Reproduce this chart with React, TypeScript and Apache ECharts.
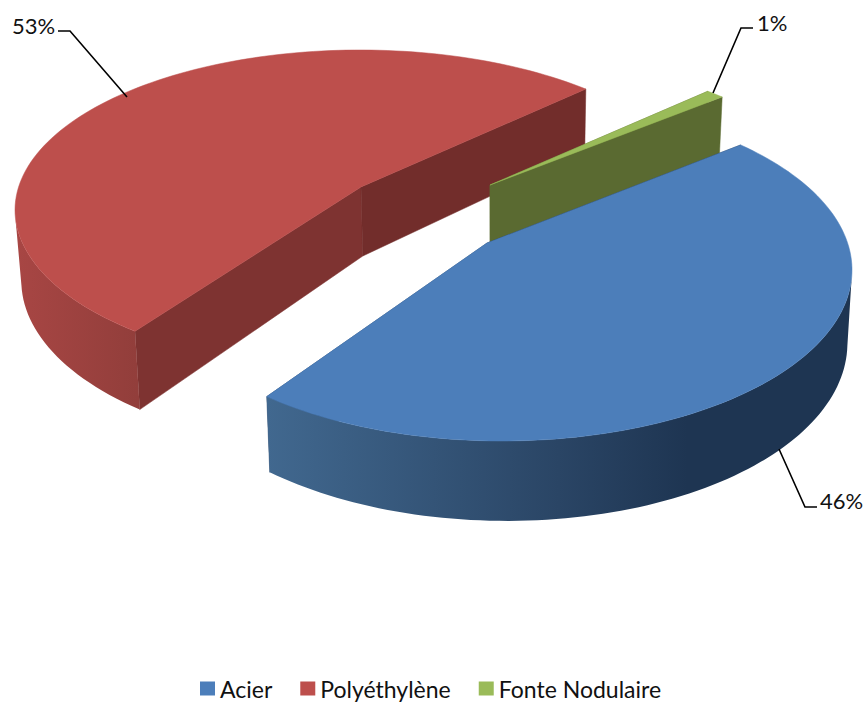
import React, { useEffect, useRef } from "react";
import * as echarts from "echarts";

const categories = ["Acier", "Polyéthylène", "Fonte Nodulaire"];
const values = [46, 53, 1];
const firstSliceAngle = 39.9;

const FONT = "Lato, Carlito, sans-serif";
const VANISH_X = 500;
const VANISH_K = 0.013;

type Slice = {
  apex: [number, number];
  center: [number, number];
  a: number;
  b: number;
  persp: number;
  depth: number;
  top: string;
  startFace: string;
  endFace: string;
  wall: any;
  z: number;
  label: { x: number; y: number; align: string; line: number[][] };
};

const slices: Slice[] = [
  {
    apex: [487, 243],
    center: [502, 270],
    a: 350,
    b: 171,
    persp: 0.14,
    depth: 69,
    top: "#4C7EBA",
    startFace: "#1E3552",
    endFace: "#2A4A70",
    wall: {
      type: "linear", x: 267, y: 0, x2: 851, y2: 0, global: true,
      colorStops: [
        { offset: 0, color: "#41688F" },
        { offset: 0.5, color: "#2A4565" },
        { offset: 0.72, color: "#1E3552" },
        { offset: 1, color: "#1E3552" },
      ],
    },
    z: 3,
    label: { x: 820, y: 500, align: "left", line: [[779, 449], [805, 507], [817, 507]] },
  },
  {
    apex: [361, 187],
    center: [360, 210],
    a: 345,
    b: 160,
    persp: 0.144,
    depth: 69,
    top: "#BD4F4C",
    startFace: "#7E3331",
    endFace: "#722D2B",
    wall: {
      type: "linear", x: 15, y: 0, x2: 137, y2: 0, global: true,
      colorStops: [
        { offset: 0, color: "#A84644" },
        { offset: 1, color: "#923E3B" },
      ],
    },
    z: 1,
    label: { x: 12, y: 25, align: "left", line: [[58, 31], [70, 31], [127, 97]] },
  },
  {
    apex: [490, 185],
    center: [500, 207],
    a: 327,
    b: 150,
    persp: 0.149,
    depth: 66,
    top: "#9ABB59",
    startFace: "#5A6A31",
    endFace: "#5A6A31",
    wall: "#5A6A31",
    z: 2,
    label: { x: 757, y: 22, align: "left", line: [[713, 93], [741, 28], [753, 28]] },
  },
];

const total = values.reduce((a, b) => a + b, 0);
const STEPS = 120;

// Perspective view of the pie's circle: it lands on the slice's ellipse, leaning
// towards the apex by the slice's perspective strength. Returns the screen point
// and the perspective divisor at that point.
function project(s: Slice, mathDeg: number): { x: number; y: number; w: number } {
  const t = (mathDeg * Math.PI) / 180;
  const u0 = Math.cos(t);
  const v0 = -Math.sin(t);
  const px = (s.apex[0] - s.center[0]) / s.a;
  const py = (s.apex[1] - s.center[1]) / s.b;
  const len = Math.hypot(px, py);
  const rho = s.persp;
  const ex = px / len;
  const ey = py / len;
  const nx = -ey;
  const ny = ex;
  const sc = u0 * ex + v0 * ey;
  const tc = u0 * nx + v0 * ny;
  const w = 1 + rho * sc;
  const s1 = (sc + rho) / w;
  const t1 = (tc * Math.sqrt(1 - rho * rho)) / w;
  const u = s1 * ex + t1 * nx;
  const v = s1 * ey + t1 * ny;
  return { x: s.center[0] + u * s.a, y: s.center[1] + v * s.b, w };
}

function lower(s: Slice, x: number, y: number, w: number): number[] {
  return [x + (VANISH_X - x) * VANISH_K, y + s.depth / w];
}

function renderSlice(index: number) {
  return (_params: any, api: any) => {
    const value = api.value(0);
    const before = values.slice(0, index).reduce((a, b) => a + b, 0);
    const a0 = firstSliceAngle - (before / total) * 360;
    const a1 = a0 - (value / total) * 360;
    const s = slices[index];
    const arcTop: number[][] = [];
    const wallTop: number[][] = [];
    const wallBottom: number[][] = [];
    let startBottom: number[] = [];
    let endBottom: number[] = [];
    for (let i = 0; i <= STEPS; i++) {
      const deg = a0 + ((a1 - a0) * i) / STEPS;
      const p = project(s, deg);
      const bottom = lower(s, p.x, p.y, p.w);
      arcTop.push([p.x, p.y]);
      if (i === 0) startBottom = bottom;
      if (i === STEPS) endBottom = bottom;
      // Only the front half of the rim can be seen from the camera.
      if (p.y >= s.center[1]) {
        wallTop.push([p.x, p.y]);
        wallBottom.push(bottom);
      }
    }
    const apexTop = s.apex as number[];
    const apexBottom = lower(s, s.apex[0], s.apex[1], 1);
    const poly = (points: number[][], fill: any) => ({
      type: "polygon",
      silent: true,
      shape: { points },
      style: { fill, stroke: typeof fill === "string" ? fill : "none", lineWidth: 0.5 },
    });
    const pct = Math.round((value / total) * 100) + "%";
    const children: any[] = [
      poly([apexTop, arcTop[0], startBottom, apexBottom], s.startFace),
      poly([apexTop, arcTop[STEPS], endBottom, apexBottom], s.endFace),
    ];
    if (wallTop.length > 1) {
      children.push(poly([...wallTop, ...wallBottom.slice().reverse()], s.wall));
    }
    children.push(
      poly([apexTop, ...arcTop], s.top),
      {
        type: "polyline",
        silent: true,
        z2: 10,
        shape: { points: s.label.line },
        style: { fill: "none", stroke: "#000", lineWidth: 1.6 },
      },
      {
        type: "text",
        silent: true,
        z2: 10,
        style: {
          text: pct,
          x: s.label.x,
          y: s.label.y,
          align: s.label.align,
          verticalAlign: "middle",
          fontFamily: FONT,
          fontSize: 22,
          fill: "#111",
        },
      }
    );
    return { type: "group", children };
  };
}

export default function App() {
  const ref = useRef<HTMLDivElement>(null);
  useEffect(() => {
    const chart = echarts.init(ref.current!, undefined, { renderer: "svg" });
    chart.setOption({
      animation: false,
      backgroundColor: "#fff",
      legend: {
        data: categories,
        left: 195,
        top: 672,
        itemWidth: 15,
        itemHeight: 14,
        itemGap: 28,
        icon: "rect",
        textStyle: { fontFamily: FONT, fontSize: 23, color: "#111" },
        selectedMode: false,
      },
      series: categories.map((name, i) => ({
        type: "custom",
        name,
        coordinateSystem: "none",
        z: slices[i].z,
        itemStyle: { color: slices[i].top },
        data: [[values[i]]],
        renderItem: renderSlice(i),
      })),
    });
    return () => chart.dispose();
  }, []);
  return (
    <div
      ref={ref}
      style={{ position: "fixed", left: 0, top: 0, width: 866, height: 704 }}
    />
  );
}
